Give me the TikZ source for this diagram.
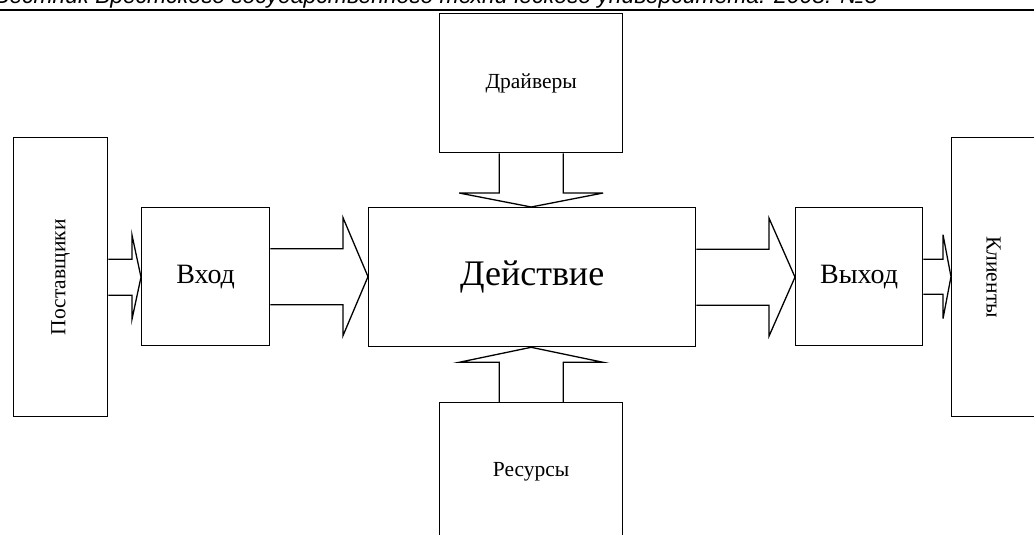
\documentclass[tikz,border=0pt]{standalone}
\usepackage{fontspec}
\setmainfont{Liberation Serif}
\newfontfamily\hdrfont{Liberation Sans}
\usetikzlibrary{calc}
\newcommand\blockH[5]{% #1 src, #2 tgt, #3 stem half, #4 head half, #5 head length
  \coordinate (tip-#1) at (#2.west |- #1.east);
  \draw[blk] ($(#1.east)+(0,-#3)$) -- ($(tip-#1)+(-#5,-#3)$) -- ($(tip-#1)+(-#5,-#4)$) -- (tip-#1) -- ($(tip-#1)+(-#5,#4)$) -- ($(tip-#1)+(-#5,#3)$) -- ($(#1.east)+(0,#3)$);}
\newcommand\blockV[6]{% #1 src, #2 src anchor, #3 tgt anchor, #4 stem half, #5 head half, #6 signed head offset
  \coordinate (tip-#1) at (#1.#2 |- #3);
  \draw[blk] ($(#1.#2)+(-#4,0)$) -- ($(tip-#1)+(-#4,#6)$) -- ($(tip-#1)+(-#5,#6)$) -- (tip-#1) -- ($(tip-#1)+(#5,#6)$) -- ($(tip-#1)+(#4,#6)$) -- ($(#1.#2)+(#4,0)$);}
\begin{document}
\begin{tikzpicture}[x=1pt,y=-1pt,
  box/.style={draw, line width=1.3pt, inner sep=0pt, anchor=north west},
  blk/.style={draw, line width=1.3pt, line join=miter},
  big/.style={font=\fontsize{36}{40}\selectfont},
  mid/.style={font=\fontsize{28}{32}\selectfont},
  sml/.style={font=\fontsize{21.5}{24}\selectfont}]
\useasboundingbox (0,0) rectangle (1034,535);
\fill[white] (0,0) rectangle (1034,535);
\clip (0,0) rectangle (1034,535);
% header (cut at the top edge, as in the reference)
\node[anchor=base west, font=\hdrfont\itshape\fontsize{23}{26}\selectfont, inner sep=0pt] (hdr) at (-6,4) {Вестник Брестского государственного технического университета. 2008. №5};
\draw[line width=2pt] (0,10) -- (1034,10);
% boxes
\node[box, sml, minimum width=183pt, minimum height=139pt] (drv) at (439,13) {Драйверы};
\node[box, sml, minimum width=183pt, minimum height=139pt] (res) at (439,402) {Ресурсы};
\node[box, big, minimum width=327pt, minimum height=139pt] (act) at (368,207) {Действие};
\node[box, mid, minimum width=128pt, minimum height=138pt] (in) at (141,207) {Вход};
\node[box, mid, minimum width=127pt, minimum height=138pt] (out) at (795,207) {Выход};
\node[box, minimum width=94pt, minimum height=279pt] (sup) at (13,137) {};
\node[box, minimum width=94pt, minimum height=279pt] (cli) at (951,137) {};
\node[sml, rotate=90] (suptext) at (sup.center) {Поставщики};
\node[sml, rotate=-90] (clitext) at ($(cli.center)+(-5,0)$) {Клиенты};
% block arrows
\blockH{sup}{in}{18}{42}{9}
\blockH{in}{act}{28}{59}{25}
\blockH{act}{out}{28}{59}{26}
\blockH{out}{cli}{17.5}{42}{8}
\blockV{drv}{south}{act.north}{32}{72}{-14}
\blockV{res}{north}{act.south}{32}{72}{15}
\end{tikzpicture}
\end{document}
